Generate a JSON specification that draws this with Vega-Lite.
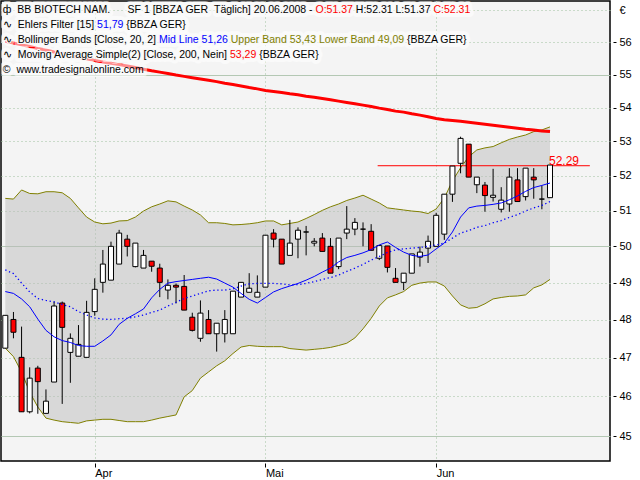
{
  "$schema": "https://vega.github.io/schema/vega-lite/v6.json",
  "width": 609,
  "height": 460,
  "autosize": {"type": "none"},
  "padding": {"left": 1, "top": 1, "right": 30, "bottom": 19},
  "background": "#ffffff",
  "config": {
    "font": "Liberation Sans",
    "view": {"fill": "#f4f4f4", "stroke": "#000000", "strokeWidth": 1.5},
    "axis": {"labelFont": "Liberation Sans", "labelFontSize": 11, "labelColor": "#000000", "tickColor": "#000000", "title": null}
  },
  "datasets": {
    "bars": [
      {"i": 0, "o": 47.25, "h": 48.12, "l": 47.25, "c": 48.12, "up": 51.35, "lo": 47.25, "mid": 49.35, "ehl": 48.76, "sma": 56.03},
      {"i": 1, "o": 48.01, "h": 48.21, "l": 47.51, "c": 47.67, "up": 51.33, "lo": 47.03, "mid": 49.25, "ehl": 48.71, "sma": 55.98},
      {"i": 2, "o": 47.01, "h": 47.82, "l": 45.61, "c": 45.61, "up": 51.59, "lo": 46.63, "mid": 48.99, "ehl": 48.56, "sma": 55.92},
      {"i": 3, "o": 45.61, "h": 46.75, "l": 45.57, "c": 46.47, "up": 51.49, "lo": 46.11, "mid": 48.75, "ehl": 48.35, "sma": 55.87},
      {"i": 4, "o": 46.73, "h": 46.79, "l": 45.56, "c": 46.38, "up": 51.48, "lo": 45.73, "mid": 48.57, "ehl": 48.02, "sma": 55.81},
      {"i": 5, "o": 45.57, "h": 46.18, "l": 45.57, "c": 45.88, "up": 51.54, "lo": 45.45, "mid": 48.52, "ehl": 47.72, "sma": 55.76},
      {"i": 6, "o": 46.37, "h": 48.49, "l": 46.37, "c": 48.37, "up": 51.54, "lo": 45.40, "mid": 48.48, "ehl": 47.55, "sma": 55.70},
      {"i": 7, "o": 48.45, "h": 48.49, "l": 45.81, "c": 47.80, "up": 51.51, "lo": 45.36, "mid": 48.41, "ehl": 47.45, "sma": 55.65},
      {"i": 8, "o": 47.14, "h": 47.64, "l": 46.35, "c": 47.51, "up": 51.35, "lo": 45.34, "mid": 48.35, "ehl": 47.40, "sma": 55.59},
      {"i": 9, "o": 47.04, "h": 47.86, "l": 47.04, "c": 47.35, "up": 51.08, "lo": 45.32, "mid": 48.22, "ehl": 47.32, "sma": 55.54},
      {"i": 10, "o": 47.01, "h": 48.51, "l": 47.01, "c": 48.20, "up": 50.82, "lo": 45.38, "mid": 48.13, "ehl": 47.30, "sma": 55.49},
      {"i": 11, "o": 48.22, "h": 49.12, "l": 48.11, "c": 48.82, "up": 50.68, "lo": 45.40, "mid": 48.05, "ehl": 47.30, "sma": 55.44},
      {"i": 12, "o": 49.01, "h": 49.90, "l": 48.73, "c": 49.51, "up": 50.63, "lo": 45.42, "mid": 48.02, "ehl": 47.44, "sma": 55.39},
      {"i": 13, "o": 49.07, "h": 50.13, "l": 49.07, "c": 50.00, "up": 50.65, "lo": 45.42, "mid": 48.01, "ehl": 47.60, "sma": 55.35},
      {"i": 14, "o": 49.51, "h": 50.46, "l": 49.51, "c": 50.37, "up": 50.71, "lo": 45.39, "mid": 48.03, "ehl": 47.88, "sma": 55.31},
      {"i": 15, "o": 50.20, "h": 50.32, "l": 49.72, "c": 50.00, "up": 50.72, "lo": 45.36, "mid": 48.04, "ehl": 48.04, "sma": 55.27},
      {"i": 16, "o": 49.44, "h": 50.09, "l": 49.42, "c": 50.09, "up": 50.82, "lo": 45.36, "mid": 48.08, "ehl": 48.16, "sma": 55.22},
      {"i": 17, "o": 49.40, "h": 49.90, "l": 49.40, "c": 49.75, "up": 50.99, "lo": 45.36, "mid": 48.13, "ehl": 48.29, "sma": 55.17},
      {"i": 18, "o": 49.59, "h": 49.59, "l": 49.30, "c": 49.45, "up": 51.11, "lo": 45.40, "mid": 48.20, "ehl": 48.59, "sma": 55.12},
      {"i": 19, "o": 49.40, "h": 49.52, "l": 48.61, "c": 49.01, "up": 51.19, "lo": 45.45, "mid": 48.26, "ehl": 48.82, "sma": 55.08},
      {"i": 20, "o": 48.80, "h": 49.09, "l": 48.55, "c": 48.93, "up": 51.28, "lo": 45.49, "mid": 48.37, "ehl": 48.99, "sma": 55.04},
      {"i": 21, "o": 48.93, "h": 48.98, "l": 48.44, "c": 48.88, "up": 51.25, "lo": 45.53, "mid": 48.47, "ehl": 49.03, "sma": 54.99},
      {"i": 22, "o": 48.90, "h": 49.21, "l": 48.26, "c": 48.26, "up": 51.13, "lo": 45.99, "mid": 48.57, "ehl": 49.06, "sma": 54.95},
      {"i": 23, "o": 48.07, "h": 48.19, "l": 47.69, "c": 47.72, "up": 51.02, "lo": 46.15, "mid": 48.64, "ehl": 49.09, "sma": 54.91},
      {"i": 24, "o": 47.51, "h": 48.52, "l": 47.42, "c": 48.18, "up": 50.88, "lo": 46.47, "mid": 48.71, "ehl": 49.12, "sma": 54.87},
      {"i": 25, "o": 48.01, "h": 48.26, "l": 47.63, "c": 47.63, "up": 50.66, "lo": 46.63, "mid": 48.78, "ehl": 49.15, "sma": 54.83},
      {"i": 26, "o": 47.63, "h": 47.91, "l": 47.16, "c": 47.91, "up": 50.66, "lo": 46.79, "mid": 48.80, "ehl": 49.10, "sma": 54.79},
      {"i": 27, "o": 47.63, "h": 48.26, "l": 47.40, "c": 48.01, "up": 50.64, "lo": 46.92, "mid": 48.80, "ehl": 48.99, "sma": 54.74},
      {"i": 28, "o": 47.63, "h": 48.77, "l": 47.63, "c": 48.77, "up": 50.60, "lo": 47.11, "mid": 48.83, "ehl": 48.88, "sma": 54.70},
      {"i": 29, "o": 48.61, "h": 49.01, "l": 48.61, "c": 49.01, "up": 50.61, "lo": 47.28, "mid": 48.91, "ehl": 48.71, "sma": 54.66},
      {"i": 30, "o": 48.74, "h": 49.26, "l": 48.74, "c": 48.85, "up": 50.63, "lo": 47.32, "mid": 48.97, "ehl": 48.55, "sma": 54.61},
      {"i": 31, "o": 48.61, "h": 49.20, "l": 48.61, "c": 48.74, "up": 50.66, "lo": 47.30, "mid": 48.98, "ehl": 48.45, "sma": 54.57},
      {"i": 32, "o": 48.88, "h": 50.31, "l": 48.88, "c": 50.31, "up": 50.71, "lo": 47.29, "mid": 48.98, "ehl": 48.60, "sma": 54.52},
      {"i": 33, "o": 50.37, "h": 50.48, "l": 49.97, "c": 50.20, "up": 50.71, "lo": 47.29, "mid": 48.98, "ehl": 48.75, "sma": 54.49},
      {"i": 34, "o": 50.20, "h": 50.20, "l": 49.51, "c": 49.51, "up": 50.60, "lo": 47.29, "mid": 48.97, "ehl": 48.84, "sma": 54.46},
      {"i": 35, "o": 49.75, "h": 50.74, "l": 49.75, "c": 50.09, "up": 50.64, "lo": 47.24, "mid": 48.94, "ehl": 48.91, "sma": 54.42},
      {"i": 36, "o": 50.20, "h": 50.53, "l": 49.67, "c": 50.45, "up": 50.68, "lo": 47.22, "mid": 48.95, "ehl": 48.98, "sma": 54.39},
      {"i": 37, "o": 50.40, "h": 50.57, "l": 49.75, "c": 50.40, "up": 50.78, "lo": 47.20, "mid": 48.98, "ehl": 49.07, "sma": 54.35},
      {"i": 38, "o": 50.09, "h": 50.23, "l": 50.00, "c": 50.14, "up": 50.89, "lo": 47.22, "mid": 49.03, "ehl": 49.17, "sma": 54.32},
      {"i": 39, "o": 50.23, "h": 50.37, "l": 49.86, "c": 49.86, "up": 51.01, "lo": 47.24, "mid": 49.09, "ehl": 49.29, "sma": 54.28},
      {"i": 40, "o": 50.00, "h": 50.23, "l": 49.26, "c": 49.26, "up": 51.11, "lo": 47.27, "mid": 49.14, "ehl": 49.40, "sma": 54.24},
      {"i": 41, "o": 49.44, "h": 50.23, "l": 49.37, "c": 50.23, "up": 51.19, "lo": 47.32, "mid": 49.21, "ehl": 49.57, "sma": 54.20},
      {"i": 42, "o": 50.37, "h": 51.13, "l": 50.20, "c": 50.48, "up": 51.29, "lo": 47.38, "mid": 49.31, "ehl": 49.69, "sma": 54.16},
      {"i": 43, "o": 50.48, "h": 50.79, "l": 50.31, "c": 50.67, "up": 51.36, "lo": 47.52, "mid": 49.40, "ehl": 49.75, "sma": 54.12},
      {"i": 44, "o": 50.48, "h": 50.67, "l": 50.00, "c": 50.48, "up": 51.44, "lo": 47.76, "mid": 49.50, "ehl": 49.82, "sma": 54.08},
      {"i": 45, "o": 50.42, "h": 50.62, "l": 49.89, "c": 49.89, "up": 51.33, "lo": 48.04, "mid": 49.62, "ehl": 49.91, "sma": 54.04},
      {"i": 46, "o": 49.67, "h": 50.02, "l": 49.62, "c": 50.02, "up": 51.22, "lo": 48.37, "mid": 49.72, "ehl": 50.04, "sma": 53.99},
      {"i": 47, "o": 50.01, "h": 50.01, "l": 49.28, "c": 49.42, "up": 51.08, "lo": 48.59, "mid": 49.83, "ehl": 50.12, "sma": 53.95},
      {"i": 48, "o": 49.12, "h": 49.40, "l": 49.01, "c": 49.01, "up": 51.05, "lo": 48.67, "mid": 49.90, "ehl": 49.97, "sma": 53.90},
      {"i": 49, "o": 49.01, "h": 49.26, "l": 48.80, "c": 49.26, "up": 51.02, "lo": 48.76, "mid": 49.93, "ehl": 49.84, "sma": 53.87},
      {"i": 50, "o": 49.26, "h": 49.79, "l": 49.26, "c": 49.79, "up": 50.99, "lo": 48.93, "mid": 49.95, "ehl": 49.75, "sma": 53.82},
      {"i": 51, "o": 49.70, "h": 49.99, "l": 49.44, "c": 49.84, "up": 50.97, "lo": 48.99, "mid": 49.97, "ehl": 49.72, "sma": 53.78},
      {"i": 52, "o": 49.95, "h": 50.30, "l": 49.54, "c": 50.14, "up": 50.92, "lo": 49.02, "mid": 50.00, "ehl": 49.76, "sma": 53.73},
      {"i": 53, "o": 50.00, "h": 50.94, "l": 50.00, "c": 50.87, "up": 51.05, "lo": 49.02, "mid": 50.04, "ehl": 49.93, "sma": 53.68},
      {"i": 54, "o": 50.34, "h": 51.47, "l": 50.18, "c": 51.47, "up": 51.36, "lo": 48.91, "mid": 50.09, "ehl": 50.09, "sma": 53.64},
      {"i": 55, "o": 51.47, "h": 52.28, "l": 51.25, "c": 52.28, "up": 51.85, "lo": 48.64, "mid": 50.23, "ehl": 50.40, "sma": 53.62},
      {"i": 56, "o": 52.36, "h": 53.14, "l": 52.07, "c": 53.09, "up": 52.23, "lo": 48.40, "mid": 50.37, "ehl": 50.82, "sma": 53.60},
      {"i": 57, "o": 52.92, "h": 52.92, "l": 51.96, "c": 51.96, "up": 52.55, "lo": 48.31, "mid": 50.44, "ehl": 51.08, "sma": 53.57},
      {"i": 58, "o": 51.74, "h": 51.96, "l": 51.50, "c": 51.96, "up": 52.75, "lo": 48.33, "mid": 50.53, "ehl": 51.13, "sma": 53.54},
      {"i": 59, "o": 51.73, "h": 51.82, "l": 50.97, "c": 51.43, "up": 52.81, "lo": 48.43, "mid": 50.58, "ehl": 51.15, "sma": 53.51},
      {"i": 60, "o": 51.38, "h": 52.20, "l": 51.26, "c": 51.44, "up": 52.85, "lo": 48.56, "mid": 50.66, "ehl": 51.18, "sma": 53.48},
      {"i": 61, "o": 51.04, "h": 51.67, "l": 50.95, "c": 51.30, "up": 52.96, "lo": 48.60, "mid": 50.72, "ehl": 51.22, "sma": 53.45},
      {"i": 62, "o": 51.19, "h": 52.22, "l": 50.97, "c": 51.96, "up": 53.06, "lo": 48.63, "mid": 50.81, "ehl": 51.31, "sma": 53.42},
      {"i": 63, "o": 51.88, "h": 52.22, "l": 51.26, "c": 51.26, "up": 53.13, "lo": 48.64, "mid": 50.89, "ehl": 51.42, "sma": 53.39},
      {"i": 64, "o": 51.40, "h": 52.22, "l": 51.29, "c": 52.22, "up": 53.19, "lo": 48.67, "mid": 50.99, "ehl": 51.55, "sma": 53.36},
      {"i": 65, "o": 51.96, "h": 52.22, "l": 51.34, "c": 51.88, "up": 53.29, "lo": 48.86, "mid": 51.08, "ehl": 51.66, "sma": 53.34},
      {"i": 66, "o": 51.33, "h": 51.71, "l": 51.04, "c": 51.33, "up": 53.34, "lo": 48.94, "mid": 51.15, "ehl": 51.72, "sma": 53.31},
      {"i": 67, "o": 51.37, "h": 52.31, "l": 51.37, "c": 52.31, "up": 53.43, "lo": 49.09, "mid": 51.26, "ehl": 51.79, "sma": 53.29}
    ],
    "last": [{"i": 67, "p": 52.29}],
    "legend": [
      {"line": 1, "tone": "r", "text": "ф\u00a0\u00a0BB BIOTECH NAM.\u00a0\u00a0\u00a0\u00a0\u00a0\u00a0SF 1 [BBZA GER\u00a0\u00a0Täglich] 20.06.2008 - O:51.37 H:52.31 L:51.37 C:52.31"},
      {"line": 1, "tone": "e", "text": "ф\u00a0\u00a0BB BIOTECH NAM.\u00a0\u00a0\u00a0\u00a0\u00a0\u00a0SF 1 [BBZA GER\u00a0\u00a0Täglich] 20.06.2008 - O:51.37 H:52.31 L:51.37"},
      {"line": 1, "tone": "k", "text": "ф\u00a0\u00a0BB BIOTECH NAM.\u00a0\u00a0\u00a0\u00a0\u00a0\u00a0SF 1 [BBZA GER\u00a0\u00a0Täglich] 20.06.2008 - O:51.37 H:52.31 L:51.37"},
      {"line": 1, "tone": "e", "text": "ф\u00a0\u00a0BB BIOTECH NAM.\u00a0\u00a0\u00a0\u00a0\u00a0\u00a0SF 1 [BBZA GER\u00a0\u00a0Täglich] 20.06.2008 - O:51.37"},
      {"line": 1, "tone": "r", "text": "ф\u00a0\u00a0BB BIOTECH NAM.\u00a0\u00a0\u00a0\u00a0\u00a0\u00a0SF 1 [BBZA GER\u00a0\u00a0Täglich] 20.06.2008 - O:51.37"},
      {"line": 1, "tone": "e", "text": "ф\u00a0\u00a0BB BIOTECH NAM.\u00a0\u00a0\u00a0\u00a0\u00a0\u00a0SF 1 [BBZA GER\u00a0\u00a0Täglich] 20.06.2008 -"},
      {"line": 1, "tone": "k", "text": "ф\u00a0\u00a0BB BIOTECH NAM.\u00a0\u00a0\u00a0\u00a0\u00a0\u00a0SF 1 [BBZA GER\u00a0\u00a0Täglich] 20.06.2008 -"},
      {"line": 2, "tone": "k", "text": "∿\u00a0\u00a0Ehlers Filter [15] 51,79 {BBZA GER}"},
      {"line": 2, "tone": "e", "text": "∿\u00a0\u00a0Ehlers Filter [15] 51,79"},
      {"line": 2, "tone": "b", "text": "∿\u00a0\u00a0Ehlers Filter [15] 51,79"},
      {"line": 2, "tone": "e", "text": "∿\u00a0\u00a0Ehlers Filter [15]"},
      {"line": 2, "tone": "k", "text": "∿\u00a0\u00a0Ehlers Filter [15]"},
      {"line": 3, "tone": "k", "text": "∿\u00a0\u00a0Bollinger Bands [Close, 20, 2] Mid Line 51,26 Upper Band 53,43 Lower Band 49,09 {BBZA GER}"},
      {"line": 3, "tone": "e", "text": "∿\u00a0\u00a0Bollinger Bands [Close, 20, 2] Mid Line 51,26 Upper Band 53,43 Lower Band 49,09"},
      {"line": 3, "tone": "o", "text": "∿\u00a0\u00a0Bollinger Bands [Close, 20, 2] Mid Line 51,26 Upper Band 53,43 Lower Band 49,09"},
      {"line": 3, "tone": "e", "text": "∿\u00a0\u00a0Bollinger Bands [Close, 20, 2] Mid Line 51,26"},
      {"line": 3, "tone": "b", "text": "∿\u00a0\u00a0Bollinger Bands [Close, 20, 2] Mid Line 51,26"},
      {"line": 3, "tone": "e", "text": "∿\u00a0\u00a0Bollinger Bands [Close, 20, 2]"},
      {"line": 3, "tone": "k", "text": "∿\u00a0\u00a0Bollinger Bands [Close, 20, 2]"},
      {"line": 4, "tone": "k", "text": "∿\u00a0\u00a0Moving Average Simple(2) [Close, 200, Nein] 53,29 {BBZA GER}"},
      {"line": 4, "tone": "e", "text": "∿\u00a0\u00a0Moving Average Simple(2) [Close, 200, Nein] 53,29"},
      {"line": 4, "tone": "r", "text": "∿\u00a0\u00a0Moving Average Simple(2) [Close, 200, Nein] 53,29"},
      {"line": 4, "tone": "e", "text": "∿\u00a0\u00a0Moving Average Simple(2) [Close, 200, Nein]"},
      {"line": 4, "tone": "k", "text": "∿\u00a0\u00a0Moving Average Simple(2) [Close, 200, Nein]"},
      {"line": 5, "tone": "k", "text": "©\u00a0\u00a0www.tradesignalonline.com"}
    ]
  },
  "layer": [
    {
      "data": {"name": "bars"},
      "encoding": {
        "x": {
          "field": "i",
          "type": "quantitative",
          "scale": {"domain": [-0.53, 74.38], "nice": false, "zero": false, "padding": 0},
          "axis": {
            "values": [11, 32, 53],
            "labelExpr": "datum.value == 11 ? 'Apr' : datum.value == 32 ? 'Mai' : 'Jun'",
            "title": null,
            "domain": false,
            "grid": true,
            "gridColor": "#9ec09e",
            "gridDash": [1, 3],
            "tickSize": 4,
            "offset": 2,
            "labelAlign": "left",
            "labelBaseline": "top",
            "labelDx": 2,
            "labelPadding": 0,
            "labelFlush": false,
            "labelOverlap": false
          }
        }
      },
      "layer": [
        {
          "mark": {"type": "area", "orient": "vertical", "color": "#bcbcbc", "opacity": 0.5},
          "encoding": {
            "y": {
              "field": "up",
              "type": "quantitative",
              "scale": {"type": "log", "domain": [44.38, 57.3], "nice": false},
              "axis": {
                "orient": "right",
                "values": [45, 46, 47, 48, 49, 50, 51, 52, 53, 54, 55, 56, 57],
                "format": "d",
                "labelExpr": "datum.value == 57 ? '€' : datum.label",
                "title": null,
                "domain": false,
                "grid": true,
                "gridColor": {"condition": {"test": "datum.value % 5 == 0", "value": "#b4c8b4"}, "value": "#9ec09e"},
                "gridDash": {"condition": {"test": "datum.value % 5 == 0", "value": []}, "value": [1, 3]},
                "tickSize": 3,
                "tickOpacity": {"condition": {"test": "datum.value == 57", "value": 0}, "value": 1},
                "offset": 3,
                "labelPadding": 3,
                "labelBaseline": "middle",
                "labelFlush": false,
                "labelOverlap": false
              }
            },
            "y2": {"field": "lo"}
          }
        },
        {
          "mark": {"type": "line", "color": "#808000", "strokeWidth": 1},
          "encoding": {"y": {"field": "up", "type": "quantitative", "scale": {"type": "log", "domain": [44.38, 57.3], "nice": false}}}
        },
        {
          "mark": {"type": "line", "color": "#808000", "strokeWidth": 1},
          "encoding": {"y": {"field": "lo", "type": "quantitative", "scale": {"type": "log", "domain": [44.38, 57.3], "nice": false}}}
        },
        {
          "data": {"name": "last"},
          "mark": {"type": "rule", "color": "#ff0000", "strokeWidth": 1},
          "encoding": {
            "x": {"datum": 45.8, "type": "quantitative", "scale": {"domain": [-0.53, 74.38], "nice": false, "zero": false, "padding": 0}},
            "x2": {"datum": 71.9},
            "y": {"field": "p", "type": "quantitative", "scale": {"type": "log", "domain": [44.38, 57.3], "nice": false}}
          }
        },
        {
          "mark": {"type": "rule", "color": "#000000", "strokeWidth": 1},
          "encoding": {
            "y": {"field": "l", "type": "quantitative", "scale": {"type": "log", "domain": [44.38, 57.3], "nice": false}},
            "y2": {"field": "h"}
          }
        },
        {
          "mark": {"type": "bar", "width": 5, "stroke": "#000000", "strokeWidth": 1},
          "encoding": {
            "y": {"field": "o", "type": "quantitative", "scale": {"type": "log", "domain": [44.38, 57.3], "nice": false}},
            "y2": {"field": "c"},
            "fill": {"condition": {"test": "datum.c < datum.o", "value": "#ff0000"}, "value": "#ffffff"}
          }
        },
        {
          "mark": {"type": "line", "color": "#0000ff", "strokeWidth": 1.3, "strokeDash": [1.3, 2.7]},
          "encoding": {"y": {"field": "mid", "type": "quantitative", "scale": {"type": "log", "domain": [44.38, 57.3], "nice": false}}}
        },
        {
          "mark": {"type": "line", "color": "#0000ff", "strokeWidth": 1},
          "encoding": {"y": {"field": "ehl", "type": "quantitative", "scale": {"type": "log", "domain": [44.38, 57.3], "nice": false}}}
        },
        {
          "mark": {"type": "line", "color": "#ff0000", "strokeWidth": 3},
          "encoding": {"y": {"field": "sma", "type": "quantitative", "scale": {"type": "log", "domain": [44.38, 57.3], "nice": false}}}
        },
        {
          "data": {"name": "last"},
          "mark": {"type": "text", "color": "#ff0000", "font": "Liberation Sans", "fontSize": 12, "align": "left", "baseline": "alphabetic", "dx": -1, "dy": -1},
          "encoding": {
            "y": {"field": "p", "type": "quantitative", "scale": {"type": "log", "domain": [44.38, 57.3], "nice": false}},
            "text": {"field": "p", "type": "quantitative", "format": ".2f"}
          }
        }
      ]
    },
    {
      "data": {"name": "legend"},
      "layer": [
        {
          "transform": [
            {"calculate": "length(datum.text)", "as": "n"},
            {"joinaggregate": [{"op": "max", "field": "n", "as": "nmax"}], "groupby": ["line"]},
            {"filter": "datum.n == datum.nmax && datum.tone != 'e'"}
          ],
          "mark": {"type": "text", "align": "left", "baseline": "middle", "font": "Liberation Sans", "fontSize": 10.5, "fill": "#ffffff", "stroke": "#ffffff", "strokeWidth": 8, "strokeJoin": "round", "opacity": 0.55, "clip": true},
          "encoding": {
            "x": {"datum": -0.3, "type": "quantitative", "scale": {"domain": [-0.53, 74.38], "nice": false, "zero": false, "padding": 0}},
            "y": {"field": "line", "type": "quantitative", "scale": {"domain": [0.434, 30.7], "reverse": true, "nice": false, "zero": false}, "axis": null},
            "text": {"field": "text"}
          }
        },
        {
          "mark": {"type": "text", "align": "left", "baseline": "middle", "font": "Liberation Sans", "fontSize": 10.5, "strokeWidth": 1.6},
          "encoding": {
            "x": {"datum": -0.3, "type": "quantitative", "scale": {"domain": [-0.53, 74.38], "nice": false, "zero": false, "padding": 0}},
            "y": {"field": "line", "type": "quantitative", "scale": {"domain": [0.434, 30.7], "reverse": true, "nice": false, "zero": false}, "axis": null},
            "text": {"field": "text"},
            "fill": {"field": "tone", "type": "nominal", "scale": {"domain": ["k", "r", "b", "o", "e"], "range": ["#000000", "#ff0000", "#0000ff", "#808000", "#f8f8f8"]}, "legend": null},
            "stroke": {"condition": {"test": "datum.tone == 'e'", "value": "#f8f8f8"}, "value": "transparent"}
          }
        }
      ]
    }
  ],
  "resolve": {"scale": {"y": "independent"}}
}
